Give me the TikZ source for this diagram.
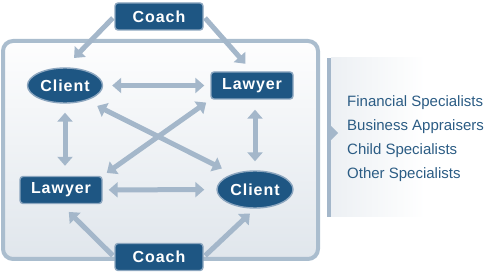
\documentclass[tikz,border=0pt]{standalone}
\usepackage{fontspec}
\setmainfont{Liberation Sans}
\newfontfamily\boxfont[LetterSpace=6]{Liberation Sans}
\usetikzlibrary{arrows.meta,positioning,shapes.geometric}
\definecolor{nodeblue}{HTML}{1E5683}
\definecolor{rimblue}{HTML}{8CA6BF}
\definecolor{linkgray}{HTML}{A4B7CA}
\definecolor{framegray}{HTML}{AABDCE}
\definecolor{panelgray}{HTML}{E0E6EC}
\definecolor{textblue}{HTML}{2B5C84}
\tikzset{
  boxnode/.style={rectangle, draw=rimblue, fill=nodeblue, line width=1.4pt,
    rounded corners=3pt, minimum width=#1, minimum height=27pt, inner sep=0pt,
    text=white, font=\boxfont\bfseries\fontsize{16}{18}\selectfont},
  boxnode/.default=82pt,
  ovalnode/.style={ellipse, draw=rimblue, fill=nodeblue, line width=1.4pt,
    minimum width=75pt, minimum height=35pt, inner sep=0pt,
    text=white, font=\boxfont\bfseries\fontsize{16}{18}\selectfont},
  link/.style={draw=linkgray, line width=5pt, -{Triangle[length=9pt,width=15pt]}},
  twoway/.style={link, {Triangle[length=9pt,width=15pt]}-{Triangle[length=9pt,width=15pt]}},
  listtext/.style={anchor=west, inner sep=0pt, text=textblue,
    font=\fontsize{15}{17}\selectfont},
}

\begin{document}
\begin{tikzpicture}[x=1pt, y=-1pt]
  \useasboundingbox (0,0) rectangle (485,275);
  % team frame
  \draw[draw=framegray, line width=4pt, rounded corners=10pt,
    top color=white!95!panelgray, bottom color=panelgray] (3,41) rectangle (318,259);
  % specialists panel
  \fill[left color=white!40!panelgray, right color=white] (331,58) rectangle (425,217);
  \fill[linkgray] (327,58) rectangle (331,217);
  \fill[linkgray] (331,126) -- (338,133) -- (331,140) -- cycle;

  \node[boxnode=88pt] (coachT) at (159,16.5) {Coach};
  \node[ovalnode] (clientT) at (65,85.5) {Client};
  \node[boxnode] (lawyerT) at (252,85.5) {Lawyer};
  \node[boxnode] (lawyerB) at (61,190) {Lawyer};
  \node[ovalnode, minimum width=76pt, minimum height=37pt] (clientB) at (255,189.5) {Client};
  \node[boxnode=88pt] (coachB) at (159,257) {Coach};

  \draw[link, shorten <=2pt, shorten >=13pt] (coachT.west) -- (clientT.north);
  \draw[link, shorten <=2pt, shorten >=10pt] (coachT.east) -- (lawyerT.north);
  \draw[twoway, shorten <=9pt, shorten >=6pt] (clientT) -- (lawyerT);
  \draw[twoway, shorten <=9pt, shorten >=10pt] (clientT.south) -- (clientT.south |- lawyerB.north);
  \draw[twoway, shorten <=10pt, shorten >=9pt] (clientB.north |- lawyerT.south) -- (clientB.north);
  \draw[twoway, shorten <=12pt, shorten >=12pt] (clientT.-35) -- (clientB.145);
  \draw[twoway, shorten <=5pt, shorten >=5pt] (lawyerT.south west) -- (lawyerB.north east);
  \draw[twoway, shorten <=6pt, shorten >=12pt] (lawyerB) -- (clientB);
  \draw[link, shorten <=2pt, shorten >=11pt] (coachB.west) -- (lawyerB.south);
  \draw[link, shorten <=2pt, shorten >=7pt] (coachB.east) -- (clientB.south);

  \foreach \txt [count=\i] in {Financial Specialists, Business Appraisers,
      Child Specialists, Other Specialists}
    \node[listtext] (spec\i) at (347,79+24*\i) {\txt};
\end{tikzpicture}
\end{document}
